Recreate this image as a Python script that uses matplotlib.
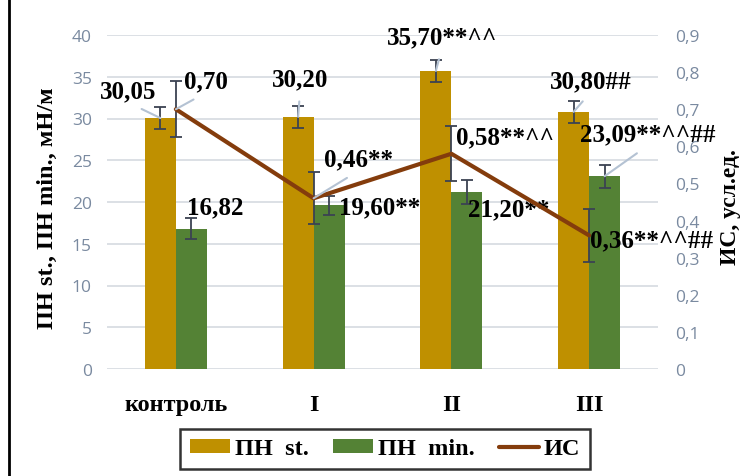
import matplotlib
matplotlib.use("Agg")
import matplotlib.pyplot as plt
import numpy as np
from matplotlib.patches import Rectangle

categories = ["контроль", "I", "II", "III"]
pn_st = [30.05, 30.20, 35.70, 30.80]
pn_st_err = [1.3, 1.35, 1.35, 1.3]
pn_min = [16.82, 19.60, 21.20, 23.09]
pn_min_err = [1.25, 1.1, 1.4, 1.4]
ic = [0.70, 0.46, 0.58, 0.36]
ic_err = [0.075, 0.07, 0.074, 0.072]

lbl_st = ["30,05", "30,20", "35,70**^^", "30,80##"]
lbl_min = ["16,82", "19,60**", "21,20**", "23,09**^^##"]
lbl_ic = ["0,70", "0,46**", "0,58**^^", "0,36**^^##"]

left_ticks = [0, 5, 10, 15, 20, 25, 30, 35, 40]
right_ticks = [0, 0.1, 0.2, 0.3, 0.4, 0.5, 0.6, 0.7, 0.8, 0.9]

GOLD = "#BF9000"
GREEN = "#548235"
BROWN = "#843C0C"
ERR = "#3B4252"
LEAD = "#B4C2D3"
TICKC = "#7A8AA0"
SERIF = "Liberation Serif"

fig = plt.figure(figsize=(7.47, 4.77), dpi=100)
ax = fig.add_axes([107/747, 1-370/477, 551/747, 334/477])
ax2 = ax.twinx()

x = np.arange(len(categories))
w = 0.225
ax.bar(x - w/2, pn_st, w, color=GOLD, zorder=2, label="ПН  st.")
ax.bar(x + w/2, pn_min, w, color=GREEN, zorder=2, label="ПН  min.")
ax.errorbar(x - w/2, pn_st, yerr=pn_st_err, fmt="none", ecolor=ERR, elinewidth=1.3, capsize=4, capthick=1.3, zorder=3)
ax.errorbar(x + w/2, pn_min, yerr=pn_min_err, fmt="none", ecolor=ERR, elinewidth=1.3, capsize=4, capthick=1.3, zorder=3)

ax2.plot(x, ic, color=BROWN, lw=3, zorder=4, label="ИС", solid_capstyle="round")
ax2.errorbar(x, ic, yerr=ic_err, fmt="none", ecolor=ERR, elinewidth=1.3, capsize=4, capthick=1.3, zorder=3)

ax.set_xlim(-0.5, 3.5)
ax.set_ylim(0, 40)
ax2.set_ylim(0, 0.9)
ax.set_yticks(left_ticks)
ax2.set_yticks(right_ticks)
ax.set_yticklabels([str(t) for t in left_ticks])
ax2.set_yticklabels(["0" if t == 0 else f"{t:.1f}".replace(".", ",") for t in right_ticks])
ax.yaxis.grid(True, color="#D9DDE3", lw=1.3, zorder=0)
ax.set_axisbelow(True)
for a in (ax, ax2):
    for s in a.spines.values():
        s.set_visible(False)
    a.tick_params(length=0)
ax.tick_params(axis="y", labelsize=12.5, labelcolor=TICKC, pad=11)
ax2.tick_params(axis="y", labelsize=12.5, labelcolor=TICKC, pad=12)
for t in ax.get_yticklabels() + ax2.get_yticklabels():
    t.set_fontfamily("Open Sans")
ax.set_xticks(x)
ax.set_xticklabels(categories, fontfamily=SERIF, fontweight="bold", fontsize=17.5)
ax.tick_params(axis="x", pad=18)

ax.set_ylabel("ПН st., ПН min., мН/м", fontfamily=SERIF, fontweight="bold", fontsize=17.5)
ax2.set_ylabel("ИС, усл.ед.", fontfamily=SERIF, fontweight="bold", fontsize=17, rotation=90)
ax.yaxis.set_label_coords((58-107)/551, 0.5 - (208-203)/334)
ax2.yaxis.set_label_coords((720-107)/551, 0.5 - (207-203)/334)

fs = 18
def lab(axis, xv, yv, text, dx, dy, lead=False, shrink=6):
    kw = dict(xy=(xv, yv), xytext=(dx, dy), textcoords="offset pixels",
              ha="center", va="center", fontfamily=SERIF, fontweight="bold",
              fontsize=fs, color="black", zorder=6)
    if lead:
        kw["arrowprops"] = dict(arrowstyle="-", color=LEAD, lw=1.5,
                                shrinkA=shrink, shrinkB=0, relpos=(0.5, 0))
    axis.annotate(text, **kw)

# px offsets (x right, y up) from the mark to the label centre
st_off = [(-32, 27, True), (2, 38, True), (6, 34, True), (17, 31, True)]
min_off = [(24, 22, False), (51, -1, False), (42, -17, False), (43, 42, True)]
ic_off = [(30, 28, True), (45, 39, True), (54, 17, False), (62, -4, False)]
for i in range(4):
    dx, dy, ld = st_off[i]
    lab(ax, x[i] - w/2, pn_st[i], lbl_st[i], dx, dy, ld)
    dx, dy, ld = min_off[i]
    lab(ax, x[i] + w/2, pn_min[i], lbl_min[i], dx, dy, ld)
    dx, dy, ld = ic_off[i]
    lab(ax2, x[i], ic[i], lbl_ic[i], dx, dy, ld)

h1, l1 = ax.get_legend_handles_labels()
h2, l2 = ax2.get_legend_handles_labels()
leg = fig.legend(h1 + h2, l1 + l2, loc="center", bbox_to_anchor=(385/747, 1-450/477),
                 ncol=3, frameon=True, fancybox=False, edgecolor="black",
                 prop={"family": SERIF, "weight": "bold", "size": 17.5},
                 handlelength=1.65, handleheight=0.5, handletextpad=0.2,
                 columnspacing=1.0, borderpad=0.4)
leg.get_frame().set_linewidth(1.8)

fig.patches.append(Rectangle((9/747, -0.2), 1.2, 1.2 + (1-13/477), transform=fig.transFigure,
                             fill=False, edgecolor="black", lw=2, zorder=10))

fig.savefig("out.png", dpi=100)
